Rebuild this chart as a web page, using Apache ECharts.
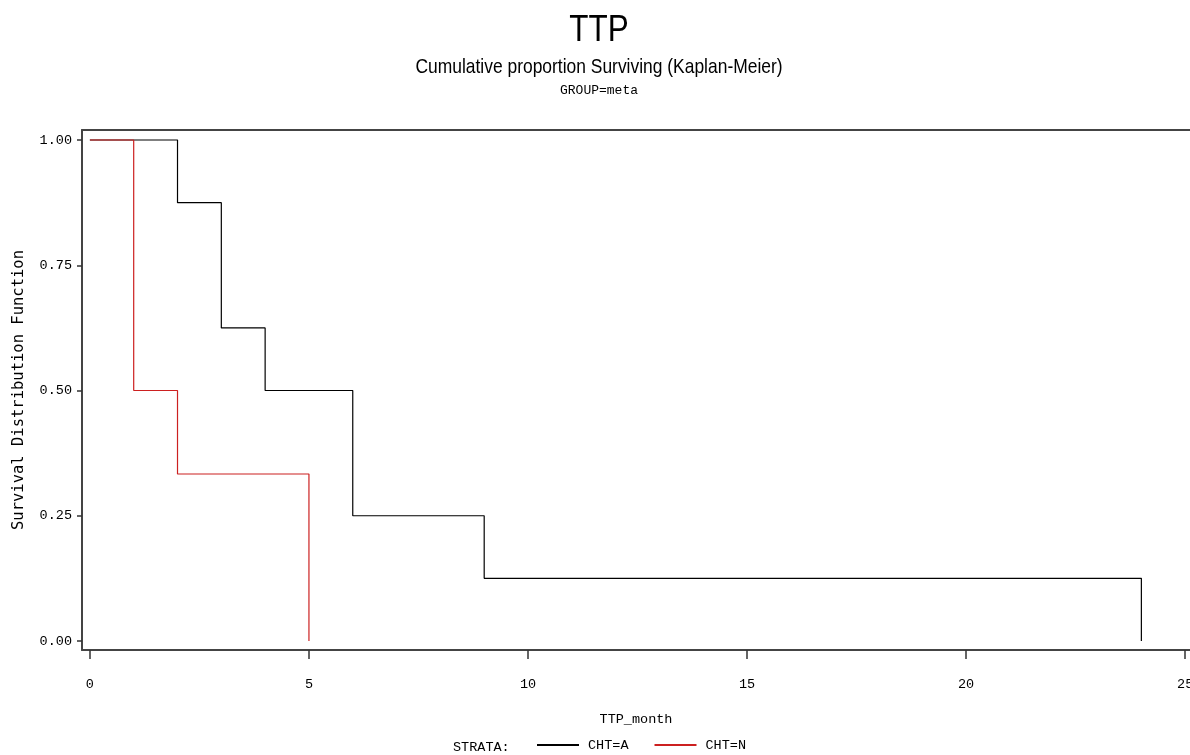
<!DOCTYPE html>
<html lang="en">
<head>
    <meta charset="UTF-8">
    <title>TTP Kaplan-Meier</title>
    <script src="https://cdn.jsdelivr.net/npm/echarts@6/dist/echarts.min.js"></script>
    <style>
        html, body { margin: 0; padding: 0; background: #fff; }
        #main { width: 1190px; height: 755px; }
    </style>
</head>
<body>
    <div id="main"></div>
    <script>
        // step points (time in months, survival proportion)
        const timesA = [0, 2, 3, 4, 6, 9, 24];
        const survA = [1, 0.875, 0.625, 0.5, 0.25, 0.125, 0];
        const timesN = [0, 1, 2, 5];
        const survN = [1, 0.5, 0.3333, 0];

        const xTicks = [0, 5, 10, 15, 20, 25];
        const yTicks = [0, 0.25, 0.5, 0.75, 1];

        const mono = 'Liberation Mono';

        const chart = echarts.init(document.getElementById('main'));

        const option = {
            animation: false,
            backgroundColor: '#fff',
            // narrow sans titles (no Arial Narrow here, so squeeze Liberation Sans)
            graphic: [
                {
                    type: 'text', x: 599, y: 31, scaleX: 0.85,
                    style: { text: 'TTP', font: '37px Liberation Sans', fill: '#000', align: 'center', verticalAlign: 'middle' }
                },
                {
                    type: 'text', x: 599, y: 67, scaleX: 0.83,
                    style: { text: 'Cumulative proportion Surviving (Kaplan-Meier)', font: '21px Liberation Sans', fill: '#000', align: 'center', verticalAlign: 'middle' }
                },
                {
                    type: 'text', x: 599, y: 91,
                    style: { text: 'GROUP=meta', font: '13px Liberation Mono', fill: '#000', align: 'center', verticalAlign: 'middle' }
                },
                {
                    type: 'text', left: 453, top: 740,
                    style: { text: 'STRATA:', font: '13.5px Liberation Mono', fill: '#000' }
                }
            ],
            grid: { left: 82, right: 0, top: 130, bottom: 105, containLabel: false, outerBoundsMode: 'none' },
            legend: {
                left: 537, top: 738, padding: 0,
                icon: 'rect',
                itemWidth: 42, itemHeight: 2, itemGap: 26,
                textStyle: { fontFamily: mono, fontSize: 13.5, color: '#000', padding: [0, 0, 0, 4] },
                data: ['CHT=A', 'CHT=N']
            },
            xAxis: [
                {
                    type: 'value', min: -0.18, max: 25.11,
                    name: 'TTP_month', nameLocation: 'middle', nameGap: 62,
                    nameTextStyle: { fontFamily: mono, fontSize: 13.5, color: '#000' },
                    axisLine: { show: true, onZero: false, lineStyle: { color: '#444', width: 2 } },
                    axisTick: { show: true, length: 9, customValues: xTicks, lineStyle: { color: '#333', width: 1.5 } },
                    axisLabel: { customValues: xTicks, margin: 27, fontFamily: mono, fontSize: 13.5, color: '#000' },
                    splitLine: { show: false }
                },
                {
                    type: 'value', position: 'top', min: -0.18, max: 25.11,
                    axisLine: { show: true, onZero: false, lineStyle: { color: '#444', width: 2 } },
                    axisTick: { show: false }, axisLabel: { show: false }, splitLine: { show: false }
                }
            ],
            yAxis: {
                type: 'value', min: -0.018, max: 1.02,
                name: 'Survival Distribution Function', nameLocation: 'middle', nameGap: 55,
                nameTextStyle: { fontFamily: 'DejaVu Sans Mono', fontSize: 15.5, color: '#000' },
                axisLine: { show: true, onZero: false, lineStyle: { color: '#444', width: 2 } },
                axisTick: { show: true, length: 5, customValues: yTicks, lineStyle: { color: '#333', width: 1.5 } },
                axisLabel: {
                    customValues: yTicks, margin: 10, fontFamily: mono, fontSize: 13.5, color: '#000',
                    formatter: v => v.toFixed(2)
                },
                splitLine: { show: false }
            },
            series: [
                {
                    name: 'CHT=A', type: 'line', step: 'end', symbol: 'none',
                    lineStyle: { color: '#000', width: 1.2 }, itemStyle: { color: '#000' },
                    data: timesA.map((t, i) => [t, survA[i]])
                },
                {
                    name: 'CHT=N', type: 'line', step: 'end', symbol: 'none',
                    lineStyle: { color: '#cc2020', width: 1.2 }, itemStyle: { color: '#cc2020' },
                    data: timesN.map((t, i) => [t, survN[i]])
                }
            ]
        };

        chart.setOption(option);
    </script>
</body>
</html>
